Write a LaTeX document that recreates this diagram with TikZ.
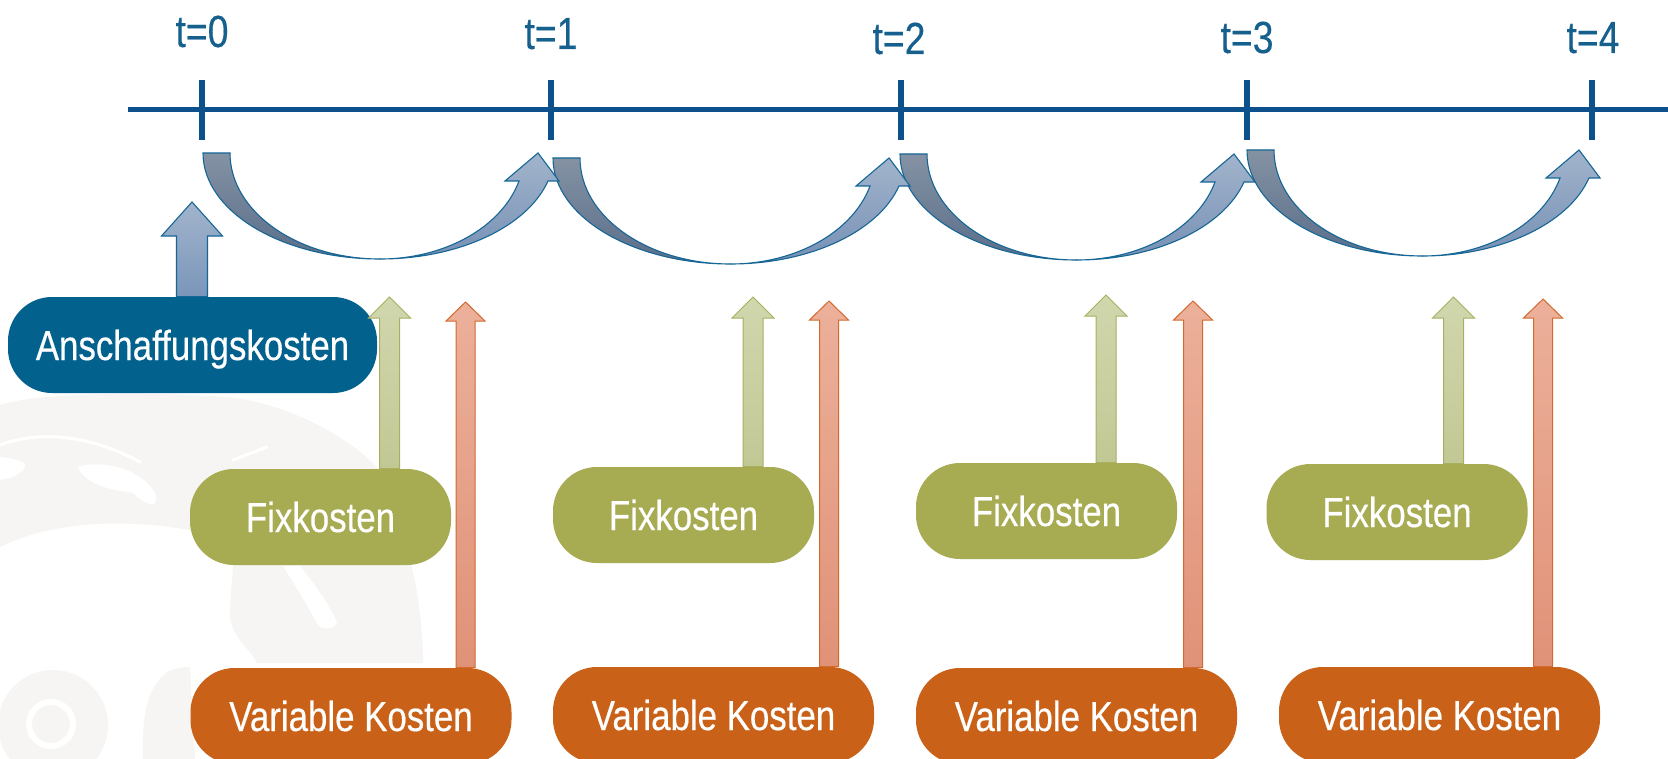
\documentclass[tikz,border=0pt]{standalone}
\usepackage{fontspec}
\setmainfont{Liberation Sans}[FakeStretch=0.83,FakeBold=0.35]
\usetikzlibrary{calc}

\definecolor{axisblue}{RGB}{12,80,140}
\definecolor{labelblue}{RGB}{22,96,142}
\definecolor{anfill}{RGB}{3,97,142}
\definecolor{fixfill}{RGB}{167,171,82}
\definecolor{varfill}{RGB}{201,98,24}
\definecolor{hopedge}{RGB}{22,102,150}
\definecolor{wmgray}{RGB}{246,245,243}

% parameters of one curved "hop" arrow between two ticks (pixel units, y downwards)
\newcommand{\hopparams}[3]{%
  \pgfmathsetmacro\hopMid{(#1+#2)/2+3}%
  \pgfmathsetmacro\hopTop{-(#3)}%
  \pgfmathsetmacro\hopBot{-(#3)-106}%
  \pgfmathsetmacro\hopBase{-(#3)-28}%
  \pgfmathsetmacro\hopLo{\hopMid-(#1)}%
  \pgfmathsetmacro\hopLi{\hopMid-(#1)-27}%
  \pgfmathsetmacro\hopRo{((#2)-3-\hopMid)/0.9645}%
  \pgfmathsetmacro\hopRi{((#2)-32-\hopMid)/0.9645}%
  \pgfmathsetmacro\hopIn{(#2)-32}%
}
% dark descending band
\newcommand{\hopback}[3]{\hopparams{#1}{#2}{#3}%
  \path[hopbackstyle] (#1,\hopTop)
    arc[start angle=180,end angle=270,x radius=\hopLo,y radius=106]
    arc[start angle=270,end angle=180,x radius=\hopLi,y radius=106] -- cycle;}
% light rising band with the arrow head
\newcommand{\hopfront}[3]{\hopparams{#1}{#2}{#3}%
  \path[hopfrontstyle] (\hopMid,\hopBot)
    arc[start angle=270,end angle=344.69,x radius=\hopRo,y radius=106]
    -- (#2+8,\hopBase) -- (#2-13,\hopTop) -- (#2-46,\hopBase) -- (\hopIn,\hopBase)
    arc[start angle=344.69,end angle=270,x radius=\hopRi,y radius=106] -- cycle;}
% straight block arrow: style, foot anchor, tip coordinate, shaft half width, head half width, head length
\newcommand{\blockup}[6]{%
  \path[#1] let \p1=(#2), \p2=(#3) in
    (\x2-#4,\y1) -- (\x2-#4,\y2-#6) -- (\x2-#5,\y2-#6) -- (\x2,\y2)
    -- (\x2+#5,\y2-#6) -- (\x2+#4,\y2-#6) -- (\x2+#4,\y1) -- cycle;}

\begin{document}
\begin{tikzpicture}[x=0.5pt,y=0.5pt,
  axisline/.style={draw=axisblue,line width=2.5pt},
  tickmark/.style={draw=axisblue,line width=2.7pt},
  tlabel/.style={text=labelblue,font=\fontsize{22.5}{22.5}\selectfont,anchor=base,inner sep=0pt},
  costbox/.style={rectangle,rounded corners=22pt,minimum height=48pt,inner sep=0pt,
    text=white,font=\fontsize{21}{21}\selectfont,text height=15pt,text depth=0pt},
  anbox/.style={costbox,fill=anfill,minimum width=184.5pt},
  fixbox/.style={costbox,fill=fixfill,minimum width=130.5pt},
  varbox/.style={costbox,fill=varfill,minimum width=160.5pt},
  hopbackstyle/.style={top color={rgb,255:red,132;green,146;blue,163},bottom color={rgb,255:red,90;green,110;blue,138},draw=hopedge,line width=0.55pt},
  hopfrontstyle/.style={top color={rgb,255:red,162;green,180;blue,204},bottom color={rgb,255:red,118;green,144;blue,180},draw=hopedge,line width=0.55pt},
  bluearrow/.style={top color={rgb,255:red,162;green,180;blue,204},bottom color={rgb,255:red,122;green,150;blue,186},draw=hopedge,line width=0.55pt},
  greenarrow/.style={top color={rgb,255:red,209;green,215;blue,173},bottom color={rgb,255:red,194;green,200;blue,148},draw={rgb,255:red,168;green,176;blue,96},line width=0.5pt},
  orangearrow/.style={top color={rgb,255:red,236;green,176;blue,154},bottom color={rgb,255:red,224;green,146;blue,120},draw={rgb,255:red,210;green,105;blue,45},line width=0.5pt},
  wmline/.style={draw=white,line width=1.5pt,line cap=round}
]
\useasboundingbox (0,0) rectangle (1668,-759);
\fill[white] (0,0) rectangle (1668,-759);

% faint watermark in the lower left corner
\fill[wmgray] (0,-405) .. controls (40,-392) and (150,-392) .. (228,-397)
  .. controls (262,-400) and (330,-420) .. (378,-468) -- (378,-530) -- (190,-530)
  .. controls (120,-518) and (50,-522) .. (0,-547) -- cycle;
\fill[white] (0,-457) .. controls (12,-458) and (26,-461) .. (25,-466)
  .. controls (24,-472) and (14,-478) .. (0,-480) -- cycle;
\fill[white] (78,-468) .. controls (85,-462) and (115,-463) .. (133,-473)
  .. controls (150,-482) and (160,-495) .. (155,-503)
  .. controls (150,-507) and (140,-500) .. (133,-493)
  .. controls (115,-490) and (88,-487) .. (78,-468) -- cycle;
\draw[wmline] (0,-445) .. controls (40,-430) and (90,-435) .. (140,-462);
\draw[wmline] (233,-460) -- (267,-447);
\fill[wmgray] (233,-560) -- (410,-560) .. controls (418,-590) and (423,-630) .. (423,-663)
  -- (257,-663) .. controls (250,-648) and (228,-635) .. (230,-610)
  .. controls (231,-590) and (233,-575) .. (233,-560) -- cycle;
\fill[white] (283,-566) -- (300,-566) .. controls (315,-585) and (330,-605) .. (337,-623)
  .. controls (333,-630) and (323,-630) .. (318,-625)
  .. controls (310,-610) and (295,-585) .. (283,-566) -- cycle;
\fill[wmgray] (53,-725) circle (55);
\draw[white,line width=3pt] (51,-724) circle (22);
\fill[wmgray] (190,-667) -- (195,-759) -- (143,-759)
  .. controls (142,-720) and (145,-690) .. (167,-672)
  .. controls (175,-668) and (183,-667) .. (190,-667) -- cycle;

% time axis
\draw[axisline] (128,-110) -- (1668,-110);
\foreach \tx in {202,551,901,1247,1592}
  \draw[tickmark] (\tx,-80) -- (\tx,-140);
\node[tlabel] (t0) at (202,-47) {t=0};
\node[tlabel] (t1) at (551,-49) {t=1};
\node[tlabel] (t2) at (899,-54) {t=2};
\node[tlabel] (t3) at (1247,-53) {t=3};
\node[tlabel] (t4) at (1593,-53) {t=4};

% curved arrows from period to period
\hopback{203}{551}{153}
\hopback{553}{902}{158}
\hopback{900}{1247}{154}
\hopback{1247}{1592}{150}
\hopfront{203}{551}{153}
\hopfront{553}{902}{158}
\hopfront{900}{1247}{154}
\hopfront{1247}{1592}{150}

% cost boxes
\node[anbox] (an) at (192.5,-345) {Anschaffungskosten};
\node[fixbox] (fix1) at (320.5,-517) {Fixkosten};
\node[fixbox] (fix2) at (683.5,-515) {Fixkosten};
\node[fixbox] (fix3) at (1046.5,-511) {Fixkosten};
\node[fixbox] (fix4) at (1397,-512) {Fixkosten};
\node[varbox] (var1) at (351,-716) {Variable Kosten};
\node[varbox] (var2) at (713.5,-715) {Variable Kosten};
\node[varbox] (var3) at (1076.5,-716) {Variable Kosten};
\node[varbox] (var4) at (1439.5,-715) {Variable Kosten};

% arrow tips
\coordinate (antip) at (192,-202);
\coordinate (fixtip1) at (389.5,-297);
\coordinate (fixtip2) at (753,-297);
\coordinate (fixtip3) at (1106,-295);
\coordinate (fixtip4) at (1453.5,-297);
\coordinate (vartip1) at (465.5,-302);
\coordinate (vartip2) at (829,-301);
\coordinate (vartip3) at (1193,-301);
\coordinate (vartip4) at (1543,-299);

% block arrows from the boxes upwards
\blockup{bluearrow}{an.north}{antip}{7.75pt}{15.25pt}{17pt}
\foreach \i in {1,2,3,4} {
  \blockup{greenarrow}{fix\i.north}{fixtip\i}{5pt}{10.5pt}{10.5pt}
  \blockup{orangearrow}{var\i.north}{vartip\i}{4.75pt}{9.75pt}{9.5pt}
}
\end{tikzpicture}
\end{document}
